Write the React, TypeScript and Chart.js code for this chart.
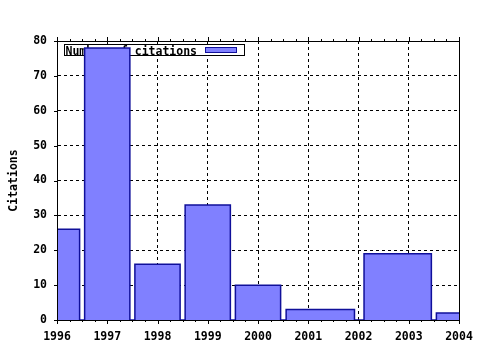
import React, { useEffect, useRef } from "react";
import { Chart, registerables } from "chart.js";

Chart.register(...registerables);

// ---- data ----
const binCenters = [1996, 1997, 1998, 1999, 2000, 2001.24, 2002.78, 2004];
const binWidths = [0.9, 0.9, 0.9, 0.9, 0.9, 1.36, 1.34, 0.9];
const citations = [26, 78, 16, 33, 10, 3, 19, 2];
const xTickLabels = ["1996", "1997", "1998", "1999", "2000", "2001", "2002", "2003", "2004"];
const yTickLabels = ["0", "10", "20", "30", "40", "50", "60", "70", "80"];
const seriesLabel = "Number of citations";
const yTitle = "Citations";

const FONT = "'DejaVu Sans Mono', monospace";
const FILL = "#8080ff";
const EDGE = "#10109a";

export default function App() {
  const ref = useRef<HTMLCanvasElement | null>(null);

  useEffect(() => {
    document.body.style.margin = "0";
    const canvas = ref.current;
    if (!canvas) return;

    const points: { x: number; y: number }[] = [];
    binCenters.forEach((c, i) => {
      const x0 = c - binWidths[i] / 2;
      const x1 = c + binWidths[i] / 2;
      const v = citations[i];
      points.push({ x: x0, y: 0 }, { x: x0, y: v }, { x: x1, y: v }, { x: x1, y: 0 });
    });

    const legendPlugin = {
      id: "gpLegend",
      beforeDatasetsDraw(chart: any) {
        const { ctx, chartArea } = chart;
        const { left, top } = chartArea;
        ctx.save();
        ctx.font = `bold 11.5px ${FONT}`;
        const tw = ctx.measureText(seriesLabel).width;
        const bx = left + 7;
        const by = top + 3;
        const swW = 31;
        const bw = 1 + tw + 8 + swW + 8;
        const bh = 11;
        ctx.fillStyle = "#fff";
        ctx.fillRect(bx, by, bw, bh);
        ctx.strokeStyle = "#000";
        ctx.lineWidth = 1;
        ctx.strokeRect(Math.round(bx) + 0.5, Math.round(by) + 0.5, Math.round(bw), bh);
        ctx.fillStyle = "#000";
        ctx.textBaseline = "middle";
        ctx.textAlign = "left";
        ctx.fillText(seriesLabel, bx + 1.5, by + bh / 2 + 2.5);
        const sx = Math.round(bx + 1 + tw + 8);
        ctx.fillStyle = FILL;
        ctx.fillRect(sx, by + 3, swW, 6);
        ctx.strokeStyle = EDGE;
        ctx.strokeRect(sx + 0.5, by + 3.5, swW, 5);
        ctx.restore();
      },
    };

    const framePlugin = {
      id: "gpFrame",
      afterDatasetsDraw(chart: any) {
        const { ctx, chartArea, scales } = chart;
        const { left, right, top, bottom } = chartArea;
        const xs = scales.x;
        const ys = scales.y;
        ctx.save();
        ctx.strokeStyle = "#000";
        ctx.lineWidth = 1;
        ctx.strokeRect(left + 0.5, top + 0.5, right - left, bottom - top);
        ctx.beginPath();
        for (let v = xs.min; v <= xs.max + 1e-9; v += 0.25) {
          const px = Math.round(xs.getPixelForValue(v)) + 0.5;
          const major = Math.abs(v - Math.round(v)) < 1e-6;
          const len = major ? 4 : 2;
          ctx.moveTo(px, bottom);
          ctx.lineTo(px, bottom + len);
          ctx.moveTo(px, top + 1);
          ctx.lineTo(px, top + 1 - len - 1);
        }
        for (let v = ys.min; v <= ys.max + 1e-9; v += 10) {
          const py = Math.round(ys.getPixelForValue(v)) + 0.5;
          ctx.moveTo(left + 1, py);
          ctx.lineTo(left - 3, py);
        }
        ctx.stroke();
        ctx.restore();
      },
    };

    const chart = new Chart(canvas, {
      type: "scatter",
      data: {
        datasets: [
          {
            label: seriesLabel,
            data: points,
            showLine: true,
            fill: "origin",
            backgroundColor: FILL,
            borderColor: EDGE,
            borderWidth: 1.5,
            pointRadius: 0,
            pointHoverRadius: 0,
            tension: 0,
          } as any,
        ],
      },
      options: {
        animation: false,
        responsive: false,
        events: [],
        layout: { padding: { top: 41, right: 21, left: 0, bottom: 0 } },
        plugins: {
          legend: { display: false },
          tooltip: { enabled: false },
          title: { display: false },
        },
        scales: {
          x: {
            type: "linear",
            min: 1996,
            max: 2004,
            afterFit: (s: any) => {
              s.height = 30;
              s.paddingLeft = 0;
              s.paddingRight = 0;
            },
            ticks: {
              stepSize: 1,
              autoSkip: false,
              maxRotation: 0,
              padding: 10,
              color: "#000",
              font: { family: FONT, weight: "bold", size: 11.5 },
              callback: (_v: any, i: number) => xTickLabels[i] ?? "",
            },
            grid: {
              color: "#000",
              lineWidth: 1,
              drawTicks: false,
            },
            border: { display: true, color: "#000", width: 1, dash: [3, 3] },
          },
          y: {
            type: "linear",
            min: 0,
            max: 80,
            afterFit: (s: any) => {
              s.width = 57;
              s.paddingTop = 0;
              s.paddingBottom = 0;
            },
            ticks: {
              stepSize: 10,
              autoSkip: false,
              padding: 10,
              color: "#000",
              font: { family: FONT, weight: "bold", size: 11.5 },
              callback: (_v: any, i: number) => yTickLabels[i] ?? "",
            },
            grid: {
              color: "#000",
              lineWidth: 1,
              drawTicks: false,
            },
            border: { display: true, color: "#000", width: 1, dash: [3, 3] },
            title: {
              display: true,
              text: yTitle,
              color: "#000",
              font: { family: FONT, weight: "bold", size: 11.5 },
              padding: { top: 7, bottom: 0 },
            },
          },
        },
      } as any,
      plugins: [legendPlugin, framePlugin],
    });

    return () => chart.destroy();
  }, []);

  return (
    <div style={{ position: "absolute", left: 0, top: 0, width: 480, height: 350, background: "#fff" }}>
      <canvas ref={ref} width={480} height={350} style={{ display: "block" }} />
    </div>
  );
}
